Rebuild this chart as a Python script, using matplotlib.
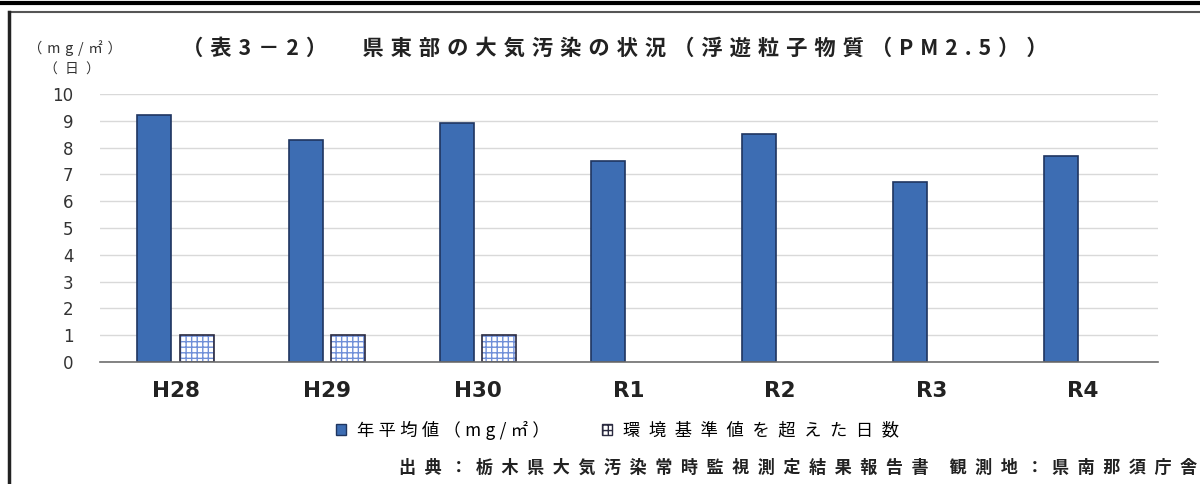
import matplotlib
matplotlib.use("Agg")
import matplotlib.pyplot as plt
import numpy as np
from matplotlib.patches import Rectangle
from matplotlib.lines import Line2D

plt.rcParams['font.family'] = ['Noto Sans CJK JP', 'DejaVu Sans']

categories = ["H28", "H29", "H30", "R1", "R2", "R3", "R4"]
annual_mean = [9.2, 8.3, 8.9, 7.5, 8.5, 6.7, 7.7]
exceed_days = [1, 1, 1, 0, 0, 0, 0]
yticks = list(range(0, 11))
title = "（表3－2）　県東部の大気汚染の状況（浮遊粒子物質（PM2.5））"
unit1 = "（mg/㎡）"
unit2 = "（日）"
legend_labels = ["年平均値（mg/㎡）", "環境基準値を超えた日数"]
source = "出典：栃木県大気汚染常時監視測定結果報告書 観測地：県南那須庁舎"

blue = "#3D6DB3"
blue_edge = "#1F3560"
hatch_blue = "#6F8FD8"

W, H = 1200, 484
fig = plt.figure(figsize=(12, 4.84), dpi=100)
renderer = fig.canvas.get_renderer()

SPACERS = ['', '\u200a', '\u2009', '\u2006', '\u2005', '\u2004', '\u2004\u200a',
           '\u2004\u2009', '\u2002', '\u2002\u200a', '\u2002\u2009']


def measure(s, fs, **kw):
    t = fig.text(0, 0, s, fontsize=fs, **kw)
    w = t.get_window_extent(renderer).width
    t.remove()
    return w


def fit(s, target_w, fs, **kw):
    best = None
    for sp in SPACERS:
        cand = sp.join(s)
        w = measure(cand, fs, **kw)
        if best is None or abs(w - target_w) < abs(best[1] - target_w):
            best = (cand, w)
    cand, w = best
    fs2 = fs * float(np.clip(target_w / w, 0.92, 1.08))
    return cand, fs2


def place(xpx, ypx, s, target_w, fs, ha="left", **kw):
    cand, fs2 = fit(s, target_w, fs, **kw)
    return fig.text(xpx / W, 1 - ypx / H, cand, fontsize=fs2, ha=ha, va="center", **kw)


ax = fig.add_axes([100/W, 1 - 362/H, 1058/W, (362-94)/H])

x = np.arange(len(categories))
w = 0.225
off = 0.14
ax.bar(x - off, annual_mean, width=w, color=blue, edgecolor=blue_edge, linewidth=1.2, zorder=3)
plt.rcParams['hatch.linewidth'] = 1.0
days = np.array(exceed_days, dtype=float)
mask = days > 0
ax.bar(x[mask] + off, days[mask], width=w, color="white", edgecolor=hatch_blue, hatch="+++", linewidth=0, zorder=3)
ax.bar(x[mask] + off, days[mask], width=w, fill=False, edgecolor="#2A2A40", linewidth=1.2, zorder=4)

ax.set_xlim(-0.5, len(categories) - 0.5)
ax.set_ylim(0, 10)
ax.set_yticks(yticks)
ax.set_yticklabels([str(t) for t in yticks], fontsize=12, color="#333333", family="DejaVu Sans")
ax.set_xticks(x)
ax.set_xticklabels(categories, fontsize=15.5, fontweight="bold", color="#222222", family="DejaVu Sans")
ax.tick_params(axis="both", length=0)
ax.tick_params(axis="y", pad=19)
ax.tick_params(axis="x", pad=14)
ax.yaxis.grid(True, color="#D9D9D9", linewidth=1.0, zorder=0)
ax.set_axisbelow(True)
for s in ["top", "right", "left"]:
    ax.spines[s].set_visible(False)
ax.spines["bottom"].set_color("#6E6E6E")
ax.spines["bottom"].set_linewidth(1.2)
ax.spines["bottom"].set_zorder(5)

# title and unit labels
place(182, 48, title, 870, 15, fontweight="bold", color="#222222")
place(75, 48, unit1, 94, 10, ha="center", color="#333333")
place(72, 70, unit2, 56, 10, ha="center", color="#333333")

# legend
fs_leg = 12.5
lab1, fs1 = fit(legend_labels[0], 193, fs_leg)
lab2, fs2 = fit(legend_labels[1], 277, fs_leg)
fsl = (fs1 + fs2) / 2
em = fsl * 100 / 72
h1 = Rectangle((0, 0), 1, 1, facecolor=blue, edgecolor=blue_edge, linewidth=1)
h2 = Rectangle((0, 0), 1, 1, facecolor="white", edgecolor="#2A2A40", hatch="+++", linewidth=1)
fig.legend([h1, h2], [lab1, lab2], loc="center left", bbox_to_anchor=(336/W, 1 - 430/H), ncol=2,
           frameon=False, fontsize=fsl, handlelength=10/em, handleheight=10/em, handletextpad=11/em,
           columnspacing=52/em, borderpad=0, borderaxespad=0)

# source
place(1197, 468, source, 797, 12.5, ha="right", fontweight="bold", color="#222222")

# frame lines
fig.add_artist(Line2D([0, 1], [1 - 3/H, 1 - 3/H], color="black", linewidth=3, transform=fig.transFigure))
fig.add_artist(Line2D([9/W, 1], [1 - 12/H, 1 - 12/H], color="#555555", linewidth=1.5, transform=fig.transFigure))
fig.add_artist(Line2D([9/W, 9/W], [0, 1 - 12/H], color="#222222", linewidth=2.5, transform=fig.transFigure))

fig.savefig("out.png", dpi=100)
